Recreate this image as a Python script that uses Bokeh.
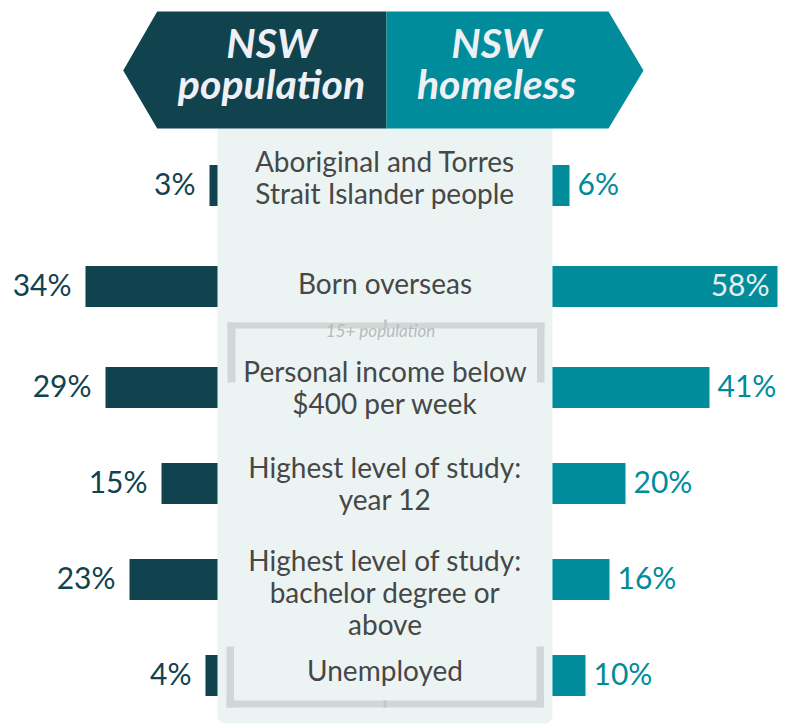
import numpy as np
from bokeh.plotting import figure
from bokeh.models import Range1d, ColumnDataSource
from bokeh.core.properties import value
from bokeh.embed import file_html
from bokeh.resources import INLINE

# ---------------- data ----------------
categories = [
    "Aboriginal and Torres\nStrait Islander people",
    "Born overseas",
    "Personal income below\n$400 per week",
    "Highest level of study:\nyear 12",
    "Highest level of study:\nbachelor degree or\nabove",
    "Unemployed",
]
nsw_population = [3, 34, 29, 15, 23, 4]
nsw_homeless = [6, 58, 41, 20, 16, 10]
header_left = ["NSW", "population"]
header_right = ["NSW", "homeless"]
bracket_note = "15+ population"

# ---------------- layout / style ----------------
W, H = 790, 725
ROW_Y = [185, 286, 387, 483, 579, 675]
TEXT_Y = [178, 284, 388, 484, 593, 671]
LINE_H = 32
BAR_H = 41
PX_PER_PCT = 4.0
LEFT_ORIGIN_PX = 221
RIGHT_ORIGIN_PX = 545
GAP = (RIGHT_ORIGIN_PX - LEFT_ORIGIN_PX) / PX_PER_PCT

DARK = "#11434f"
TEAL = "#008c9a"
PANEL = "#ebf4f3"
BRACKET = "#d1d6d6"
CAT_COLOR = "#474747"
FONT = "Lato"

p = figure(width=W, height=H, x_range=Range1d(0, W), y_range=Range1d(H, 0),
           output_backend="svg", toolbar_location=None, min_border=0,
           x_axis_location=None, y_axis_location=None,
           background_fill_color="white", border_fill_color="white")
p.outline_line_color = None
p.grid.visible = False
p.extra_x_ranges = {"pct": Range1d(-LEFT_ORIGIN_PX / PX_PER_PCT,
                                   (W - LEFT_ORIGIN_PX) / PX_PER_PCT)}

# ---------------- bars ----------------
bars = ColumnDataSource(dict(
    y=ROW_Y,
    pop_left=[-v for v in nsw_population],
    hom_right=[GAP + v for v in nsw_homeless],
))
p.hbar(y="y", left="pop_left", right=6, height=BAR_H, source=bars,
       fill_color=DARK, line_color=None, x_range_name="pct")
p.hbar(y="y", left=GAP - 6, right="hom_right", height=BAR_H, source=bars,
       fill_color=TEAL, line_color=None, x_range_name="pct")

# ---------------- central panel (rounded bottom corners) ----------------
px0, px1, py0, py1, r = 217, 552, 125, 723, 8
ang = np.linspace(0, np.pi / 2, 12)
right_arc_x = list(px1 - r + r * np.cos(ang))
right_arc_y = list(py1 - r + r * np.sin(ang))
left_arc_x = list(px0 + r - r * np.sin(ang))
left_arc_y = list(py1 - r + r * np.cos(ang))
p.patch([px0, px1] + right_arc_x + left_arc_x, [py0, py0] + right_arc_y + left_arc_y,
        fill_color=PANEL, line_color=None)

# ---------------- bracket for 15+ population ----------------
p.quad(left=[227, 227, 536.5, 226, 226, 536],
       right=[544, 235, 544, 543.5, 233.5, 543.5],
       top=[322, 322, 322, 700, 646, 646],
       bottom=[328, 382, 382, 707, 707, 707],
       fill_color=BRACKET, line_color=None)
p.quad(left=[383.5, 383], right=[386.5, 386], top=[319, 700], bottom=[328, 707],
       fill_color="#c3c8c8", line_color=None)
p.text(x=[380], y=[330], text=[bracket_note], text_font=value(FONT),
       text_font_style="italic", text_font_size="17px", text_color="#b7bbbb",
       text_align="center", text_baseline="alphabetic")

# ---------------- header banner ----------------
p.patch([122.7, 156.7, 386, 386, 156.7], [70, 11, 11, 128, 128],
        fill_color=DARK, line_color=None)
p.patch([386, 608, 643, 608, 386], [11, 11, 70, 128, 128],
        fill_color=TEAL, line_color=None)
p.text(x=[271, 271], y=[42, 83], text=header_left, text_font=value(FONT),
       text_font_style="bold italic", text_font_size="41px", text_color="#eef0f5",
       text_align="center", text_baseline="alphabetic")
p.text(x=[496, 496], y=[42, 83], text=header_right, text_font=value(FONT),
       text_font_style="bold italic", text_font_size="41px", text_color="#eef0f5",
       text_align="center", text_baseline="alphabetic")

# ---------------- category labels ----------------
lx, ly, lt = [], [], []
for cat, yc in zip(categories, TEXT_Y):
    lines = cat.split("\n")
    n = len(lines)
    for j, line in enumerate(lines):
        lx.append((px0 + px1) / 2)
        ly.append(yc + (j - (n - 1) / 2) * LINE_H - 2)
        lt.append(line)
p.text(x=lx, y=ly, text=lt, text_font=value(FONT), text_font_size="28px",
       text_color=CAT_COLOR, text_align="center", text_baseline="alphabetic")

# ---------------- value labels ----------------
left_lab = ColumnDataSource(dict(
    x=[-v for v in nsw_population], y=[yy - 3 for yy in ROW_Y],
    t=[f"{v}%" for v in nsw_population]))
p.text(x="x", y="y", text="t", source=left_lab, x_range_name="pct",
       x_offset=-14, text_font=value(FONT), text_font_size="30px",
       text_color=DARK, text_align="right", text_baseline="alphabetic")

out_x, out_y, out_t, in_x, in_y, in_t = [], [], [], [], [], []
for v, yy in zip(nsw_homeless, ROW_Y):
    if v >= 50:
        in_x.append(GAP + v); in_y.append(yy - 3); in_t.append(f"{v}%")
    else:
        out_x.append(GAP + v); out_y.append(yy - 3); out_t.append(f"{v}%")
p.text(x=out_x, y=out_y, text=out_t, x_range_name="pct", x_offset=8,
       text_font=value(FONT), text_font_size="30px", text_color=TEAL,
       text_align="left", text_baseline="alphabetic")
p.text(x=in_x, y=in_y, text=in_t, x_range_name="pct", x_offset=-8,
       text_font=value(FONT), text_font_size="30px", text_color="#e8eef0",
       text_align="right", text_baseline="alphabetic")

open("out.html", "w").write(file_html(p, INLINE))
